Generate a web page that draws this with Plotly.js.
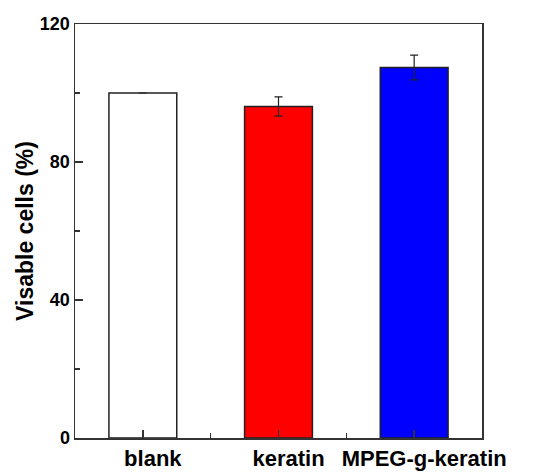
<!DOCTYPE html>
<html>
<head>
<meta charset="utf-8">
<script src="https://cdn.plot.ly/plotly-3.0.1.min.js"></script>
<style>html,body{margin:0;padding:0;background:#fff}#chart{width:534px;height:473px}</style>
</head>
<body>
<div id="chart"></div>
<script>
const categories = ["blank", "keratin", "MPEG-g-keratin"];
const values = [100, 96.1, 107.4];
const errors = [null, 2.8, 3.6];
const barColors = ["#ffffff", "#ff0000", "#0000ff"];
const yTicks = [0, 40, 80, 120];

const xIdx = categories.map((c, i) => i);

const trace = {
  type: "bar",
  x: xIdx,
  y: values,
  width: 0.5,
  marker: { color: barColors, line: { color: "#222", width: 1.5 } },
  error_y: { type: "data", array: errors, visible: true, color: "#222", thickness: 1.2, width: 4 },
  showlegend: false
};

const font = "Liberation Sans, Arial, sans-serif";
const layout = {
  width: 534, height: 473,
  margin: { l: 75, r: 52, t: 24, b: 35 },
  paper_bgcolor: "#fff", plot_bgcolor: "#fff",
  font: { family: font, color: "#000" },
  xaxis: {
    range: [-0.5, 2.5],
    tickvals: xIdx, ticktext: categories,
    ticks: "inside", ticklen: 8, tickwidth: 1.5, tickcolor: "#333",
    minor: { tickvals: [0.5, 1.5], ticks: "inside", ticklen: 5, tickwidth: 1.5, tickcolor: "#333" },
    showline: true, linecolor: "#333", linewidth: 1.5, mirror: true,
    showgrid: false, zeroline: false,
    ticklabelshift: 10,
    tickfont: { family: font, size: 22, weight: "bold", color: "#000" }
  },
  yaxis: {
    range: [0, 120],
    tickvals: yTicks,
    ticks: "inside", ticklen: 8, tickwidth: 1.5, tickcolor: "#333",
    minor: { dtick: 20, ticks: "inside", ticklen: 5, tickwidth: 1.5, tickcolor: "#333" },
    showline: true, linecolor: "#333", linewidth: 1.5, mirror: true,
    showgrid: false, zeroline: false,
    tickfont: { family: font, size: 18, weight: "bold", color: "#000" },
    title: { text: "Visable cells (%)", font: { family: font, size: 23, weight: "bold", color: "#000" }, standoff: 0 }
  },
  bargap: 0.5
};

Plotly.newPlot("chart", [trace], layout, { displayModeBar: false, staticPlot: true });
</script>
</body>
</html>
